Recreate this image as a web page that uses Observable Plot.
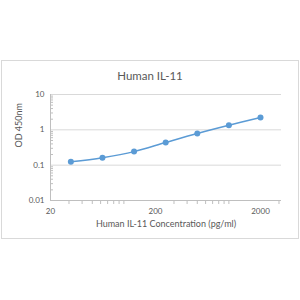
<!DOCTYPE html>
<html>
<head>
<meta charset="utf-8">
<script src="https://cdn.jsdelivr.net/npm/d3@7"></script>
<script src="https://cdn.jsdelivr.net/npm/@observablehq/plot@0.6"></script>
<style>
  html, body { margin: 0; padding: 0; background: #fff; }
  #wrap { position: relative; width: 300px; height: 300px; font-family: Lato, "Open Sans", sans-serif; }
  #border { position: absolute; left: 1px; top: 60px; width: 296px; height: 177px; border: 1px solid #d9d9d9; pointer-events: none; }
  #chart { position: absolute; left: 0; top: 0; }
</style>
</head>
<body>
<div id="wrap"><div id="chart"></div><div id="border"></div></div>
<script>
const concentrations = [31.25, 62.5, 125, 250, 500, 1000, 2000];
const odValues = [0.124, 0.163, 0.242, 0.44, 0.79, 1.35, 2.22];
const xTickLabels = [20, 200, 2000];
const yTickLabels = [0.01, 0.1, 1, 10];
const xMinorTicks = [30, 40, 50, 60, 70, 80, 90, 100, 300, 400, 500, 600, 700, 800, 900, 1000, 3000];
const yMinorTicks = [0.02,0.03,0.04,0.05,0.06,0.07,0.08,0.09,0.2,0.3,0.4,0.5,0.6,0.7,0.8,0.9,2,3,4,5,6,7,8,9];
const chartTitle = "Human IL-11";
const xTitle = "Human IL-11 Concentration (pg/ml)";
const yTitle = "OD 450nm";

const data = concentrations.map((c, i) => ({c, od: odValues[i]}));
const textColor = "#595959";

const chart = Plot.plot({
  width: 300,
  height: 300,
  marginLeft: 50,
  marginRight: 19,
  marginTop: 94,
  marginBottom: 100,
  style: {fontFamily: "Lato, 'Open Sans', sans-serif", background: "transparent"},
  x: {type: "log", domain: [20, 3170], axis: null},
  y: {type: "log", domain: [0.01, 10], axis: null},
  marks: [
    Plot.ruleY([0.1, 1, 10], {stroke: "#d9d9d9", strokeWidth: 1}),
    Plot.ruleY([0.01], {stroke: "#bfbfbf", strokeWidth: 1}),
    Plot.ruleX([20], {y1: 0.01, y2: 10, stroke: "#bfbfbf", strokeWidth: 1}),
    Plot.axisX(xMinorTicks, {anchor: "bottom", label: null, tickSize: 4, stroke: "#bfbfbf", tickFormat: () => ""}),
    Plot.axisY(yMinorTicks, {anchor: "left", label: null, tickSize: -3, stroke: "#bfbfbf", tickFormat: () => ""}),
    Plot.text(xTickLabels, {x: d => d, frameAnchor: "bottom", dy: 11, fontSize: 8, fill: textColor, lineAnchor: "middle", text: d => String(d)}),
    Plot.text(yTickLabels, {y: d => d, frameAnchor: "left", dx: -6, fontSize: 8, fill: textColor, textAnchor: "end", text: d => String(d)}),
    Plot.line(data, {x: "c", y: "od", stroke: "#5b9bd5", strokeWidth: 1.5, curve: "catmull-rom"}),
    Plot.dot(data, {x: "c", y: "od", fill: "#5b9bd5", r: 3}),
    Plot.text([chartTitle], {frameAnchor: "top", dx: -16, dy: -18, fontSize: 11.5, fill: textColor, lineAnchor: "middle"}),
    Plot.text([xTitle], {frameAnchor: "bottom", dy: 24, fontSize: 9, fill: textColor, lineAnchor: "middle"}),
    Plot.text([yTitle], {frameAnchor: "left", dx: -31, rotate: -90, fontSize: 9, fill: textColor, lineAnchor: "middle"})
  ]
});
document.getElementById("chart").appendChild(chart);
</script>
</body>
</html>
